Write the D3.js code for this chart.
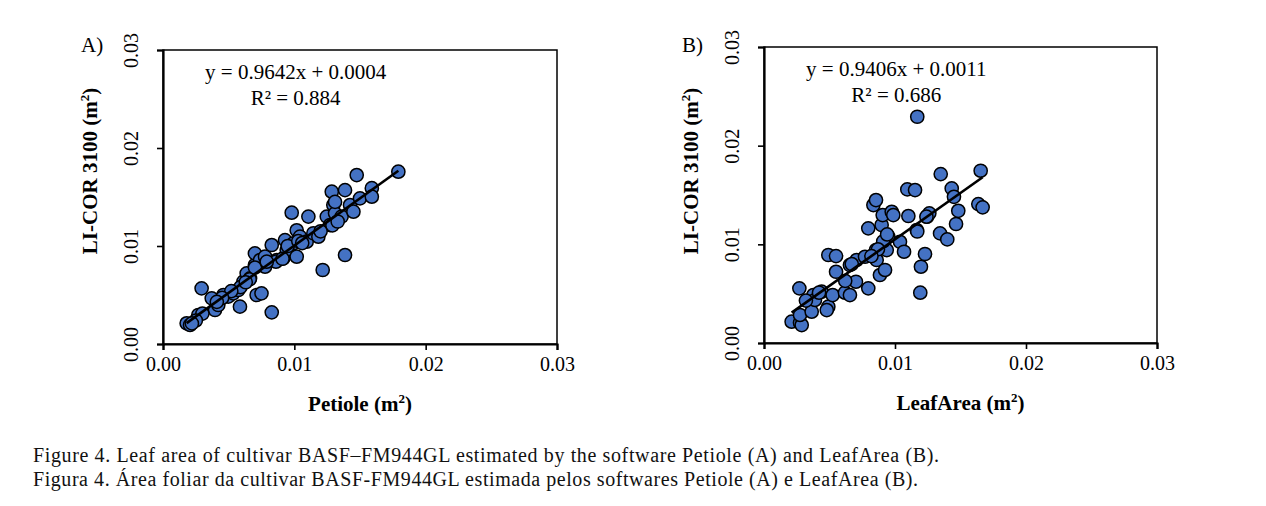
<!DOCTYPE html>
<html>
<head>
<meta charset="utf-8">
<script src="https://cdn.jsdelivr.net/npm/d3@7"></script>
<style>
  body { margin: 0; background: #fff; }
  text { font-family: "Liberation Serif", "Times New Roman", serif; fill: #000; }
</style>
</head>
<body>
<svg id="chart" width="1266" height="506"></svg>
<script>
// values (m2)
var petioleX = [0.0018,0.00206,0.00269,0.00294,0.00371,0.00396,0.00421,0.0046,0.00497,0.00535,0.00573,0.00586,0.00612,0.00637,0.00663,0.0070,0.0070,0.00713,0.0075,0.00739,0.00777,0.00777,0.00828,0.00828,0.00866,0.00916,0.00929,0.00942,0.0098,0.00993,0.01018,0.01018,0.01043,0.01107,0.01094,0.01145,0.01183,0.01216,0.01247,0.01272,0.01285,0.01297,0.0131,0.0136,0.01386,0.01386,0.01424,0.0145,0.01475,0.0150,0.0159,0.0159,0.01792,
  0.0086,0.0091,0.0095,0.0103,0.0106,0.0066,0.0059,0.0052,0.0045,0.0030,0.0025,0.0022,0.0129,0.0133,0.0131,0.0120,0.0063,0.0070,0.0079,0.0041];
var petioleY = [0.00211,0.00194,0.00296,0.00568,0.00466,0.00347,0.00398,0.0050,0.00483,0.00517,0.00551,0.00381,0.00636,0.00721,0.0067,0.00806,0.00925,0.0050,0.00517,0.00857,0.00891,0.00789,0.0101,0.00323,0.00857,0.00874,0.0106,0.0096,0.0134,0.01027,0.0116,0.00891,0.01095,0.0130,0.01044,0.0113,0.01095,0.00755,0.0130,0.01214,0.01554,0.01418,0.01333,0.0130,0.0157,0.00908,0.01418,0.0135,0.01724,0.01486,0.0159,0.01503,0.01758,
  0.0084,0.0087,0.0100,0.0105,0.0103,0.0066,0.0058,0.0054,0.0047,0.0031,0.0024,0.0021,0.0121,0.0125,0.0145,0.0115,0.0063,0.0078,0.0084,0.0043];

var leafAreaX = [0.00211,0.00275,0.00288,0.0027,0.00275,0.00364,0.00377,0.00389,0.0044,0.00491,0.00479,0.00491,0.0055,0.00524,0.0055,0.00618,0.00656,0.00656,0.00702,0.00707,0.00771,0.00796,0.00796,0.00835,0.00855,0.00855,0.0086,0.00885,0.00898,0.00906,0.0091,0.00924,0.00937,0.00949,0.00975,0.00987,0.01038,0.01069,0.01094,0.01102,0.01153,0.01166,0.0117,0.01198,0.01193,0.01229,0.01244,0.01262,0.01344,0.01349,0.01399,0.01433,0.0145,0.01466,0.01483,0.01636,0.01669,0.01654,
  0.0032,0.0042,0.0062,0.0067,0.0091,0.0087,0.0094,0.0082,0.0117,0.0124];
var leafAreaY = [0.00216,0.00206,0.00182,0.00554,0.00284,0.00317,0.00486,0.00436,0.0052,0.00368,0.00334,0.00892,0.00881,0.00486,0.00722,0.0051,0.00486,0.0079,0.00621,0.00841,0.00874,0.00554,0.01162,0.01398,0.01449,0.00942,0.00841,0.00689,0.01196,0.01297,0.0101,0.0074,0.00942,0.01077,0.0133,0.01297,0.01026,0.00925,0.01557,0.01287,0.0155,0.01145,0.02293,0.00773,0.0051,0.00902,0.0128,0.01314,0.01111,0.01712,0.0105,0.01567,0.01482,0.01206,0.0134,0.01408,0.01375,0.01746,
  0.0043,0.0051,0.0063,0.0080,0.0103,0.0095,0.0110,0.0088,0.0113,0.0128];

var axisTicks = [0, 0.01, 0.02, 0.03];
var tickLabels = ["0.00", "0.01", "0.02", "0.03"];

var panelTags = ["A)", "B)"];
var xTitles = ["Petiole", "LeafArea"];
var slopes = [0.9642, 0.9406];
var intercepts = [0.0004, 0.0011];
var eqLines = ["y = 0.9642x + 0.0004", "y = 0.9406x + 0.0011"];
var r2Lines = ["R² = 0.884", "R² = 0.686"];

var captionLines = [
  "Figure 4. Leaf area of cultivar BASF–FM944GL estimated by the software Petiole (A) and LeafArea (B).",
  "Figura 4. Área foliar da cultivar BASF-FM944GL estimada pelos softwares Petiole (A) e LeafArea (B)."
];
var captionWidths = [906, 885];

var svg = d3.select("#chart");

var panels = [
  { left: 163, right: 557, top: 50, bottom: 344, xs: petioleX, ys: petioleY },
  { left: 764, right: 1157, top: 47, bottom: 343, xs: leafAreaX, ys: leafAreaY }
];

panels.forEach(function(p, k) {
  var x = d3.scaleLinear().domain([0, 0.03]).range([p.left, p.right]);
  var y = d3.scaleLinear().domain([0, 0.03]).range([p.bottom, p.top]);
  var g = svg.append("g");

  // plot box
  g.append("rect")
    .attr("x", p.left).attr("y", p.top)
    .attr("width", p.right - p.left).attr("height", p.bottom - p.top)
    .attr("fill", "none").attr("stroke", "#000").attr("stroke-width", 1.5);

  var xAxis = g.append("g")
    .attr("transform", "translate(0," + p.bottom + ")")
    .call(d3.axisBottom(x).tickValues(axisTicks).tickSize(6).tickFormat(function(d, i) { return tickLabels[i]; }));
  xAxis.select(".domain").attr("stroke-width", 2.2);
  xAxis.selectAll(".tick line").attr("stroke-width", 1.6);
  xAxis.selectAll("text")
    .attr("y", 27).attr("dy", 0)
    .style("font-size", "20px").style("font-family", "Liberation Serif");

  var yAxis = g.append("g")
    .attr("transform", "translate(" + p.left + ",0)")
    .call(d3.axisLeft(y).tickValues(axisTicks).tickSize(6).tickFormat(function(d, i) { return tickLabels[i]; }));
  yAxis.select(".domain").attr("stroke-width", 2.2);
  yAxis.selectAll(".tick line").attr("stroke-width", 1.6);
  yAxis.selectAll("text")
    .attr("x", 0).attr("dy", 0)
    .attr("transform", "translate(-25,0) rotate(-90)")
    .attr("text-anchor", "middle")
    .style("font-size", "20px").style("font-family", "Liberation Serif");

  // points
  g.selectAll("circle").data(p.xs).enter().append("circle")
    .attr("cx", function(d) { return x(d); })
    .attr("cy", function(d, i) { return y(p.ys[i]); })
    .attr("r", 6.6)
    .attr("fill", "#4472C4")
    .attr("stroke", "#000")
    .attr("stroke-width", 1.5);

  // linear trend line over the data range
  var ext = d3.extent(p.xs);
  g.append("line")
    .attr("x1", x(ext[0])).attr("y1", y(slopes[k] * ext[0] + intercepts[k]))
    .attr("x2", x(ext[1])).attr("y2", y(slopes[k] * ext[1] + intercepts[k]))
    .attr("stroke", "#000").attr("stroke-width", 2.6);

  var cx = (p.left + p.right) / 2;
  var eqX = x(0.0101);
  g.append("text").attr("x", eqX).attr("y", p.top + 29)
    .attr("text-anchor", "middle").style("font-size", "21px").text(eqLines[k]);
  g.append("text").attr("x", eqX).attr("y", p.top + 55)
    .attr("text-anchor", "middle").style("font-size", "21px").text(r2Lines[k]);

  g.append("text").attr("x", p.left - 82).attr("y", 52)
    .style("font-size", "21px").text(panelTags[k]);

  // axis titles
  var xt = g.append("text").attr("x", cx).attr("y", p.bottom + 67)
    .attr("text-anchor", "middle").style("font-size", "21px").style("font-weight", "bold");
  xt.append("tspan").text(xTitles[k] + " (m");
  xt.append("tspan").attr("dy", -8).style("font-size", "13px").text("2");
  xt.append("tspan").attr("dy", 8).text(")");

  var yt = g.append("text")
    .attr("transform", "translate(" + (p.left - 66) + ",171) rotate(-90)")
    .attr("text-anchor", "middle").style("font-size", "21px").style("font-weight", "bold");
  yt.append("tspan").text("LI-COR 3100 (m");
  yt.append("tspan").attr("dy", -8).style("font-size", "13px").text("2");
  yt.append("tspan").attr("dy", 8).text(")");
});

svg.selectAll(".caption").data(captionLines).enter().append("text")
  .attr("class", "caption")
  .attr("x", 33)
  .attr("y", function(d, i) { return 462 + i * 24; })
  .attr("textLength", function(d, i) { return captionWidths[i]; })
  .attr("lengthAdjust", "spacing")
  .style("font-size", "20px")
  .style("fill", "#111")
  .text(function(d) { return d; });
</script>
</body>
</html>
